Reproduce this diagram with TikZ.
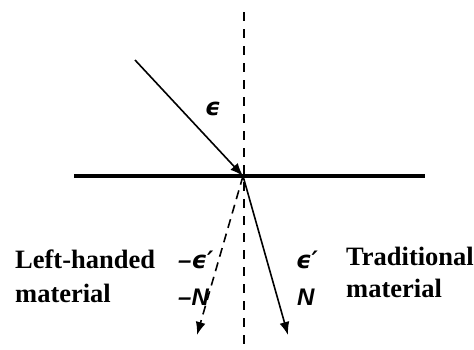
\documentclass[tikz,border=0pt]{standalone}
\usepackage{fontspec}
\setmainfont{Liberation Serif}
\newfontfamily\symbfont{Liberation Sans}
\newfontfamily\greekfont{DejaVu Sans}
\usetikzlibrary{arrows.meta}

\begin{document}
\begin{tikzpicture}[x=1pt,y=-1pt]

	\tikzset{myrayarrow/.style={-{Latex[length=13pt,width=10pt]}, black, line width=1.6pt}}
	\tikzset{mynormalline/.style={black, line width=2pt, dash pattern=on 9pt off 8pt}}
	\tikzset{mylabel/.style={font=\fontsize{26.5}{30}\selectfont\bfseries, inner sep=0pt, anchor=base west}}
	\tikzset{mysymbol/.style={mylabel, font=\fontsize{24}{30}\selectfont\bfseries\itshape}}

	% Parameters
	\def\Ox{243}   % point of incidence
	\def\Oy{176}   % level of the interface

	\useasboundingbox (0,0) rectangle (474,349);

	\coordinate (O) at (\Ox,\Oy);
	\coordinate (src) at (135,60);
	\coordinate (tipL) at (197,335);
	\coordinate (tipR) at (288,335);
	\coordinate (normaltop) at (\Ox+1,12);
	\coordinate (normalbot) at (\Ox+1,349);
	\coordinate (faceL) at (74,\Oy);
	\coordinate (faceR) at (425,\Oy);

	%interface and normal
	\draw[black, line width=4pt] (faceL) -- (faceR);
	\draw[mynormalline] (normaltop) -- (normalbot);

	%rays
	\draw[myrayarrow] (src) -- (O);
	\draw[myrayarrow] (O) -- (tipR);
	\draw[myrayarrow, dash pattern=on 9pt off 6pt] (O) -- (tipL);

	\node[mysymbol] (eps) at (205,115) {\greekfont ϵ};

	\node[mylabel] (lefthanded) at (15,268) {Left-handed};
	\node[mylabel] (leftmaterial) at (15,302) {material};
	\node[mysymbol] (negeps) at (178,268) {\symbfont –\greekfont ϵ′};
	\node[mysymbol] (negN) at (178,305) {\symbfont –N};

	\node[mysymbol] (epsR) at (296,268) {\greekfont ϵ′};
	\node[mysymbol] (NR) at (297,305) {\symbfont N};
	\node[mylabel] (traditional) at (346,265) {Traditional};
	\node[mylabel] (rightmaterial) at (346,297) {material};

\end{tikzpicture}
\end{document}
